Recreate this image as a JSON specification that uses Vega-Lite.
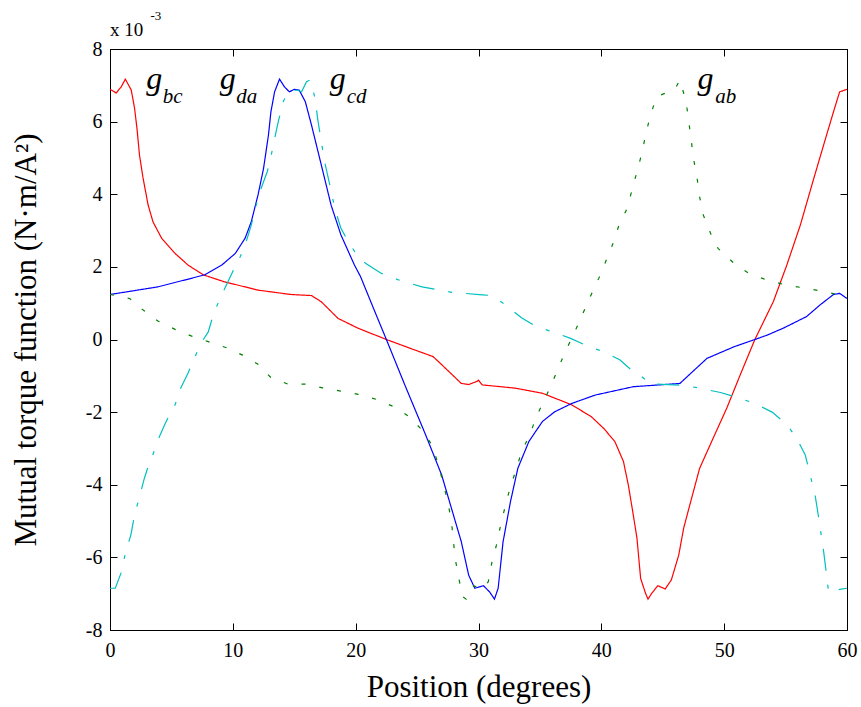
{
"$schema": "https://vega.github.io/schema/vega-lite/v6.json",
"width": 737, "height": 581,
"autosize": {"type": "none"},
"padding": {"left": 110, "top": 49, "right": 14, "bottom": 77},
"background": "white",
"config": {
 "view": {"stroke": "black", "strokeWidth": 1},
 "axis": {"labelFont": "Liberation Serif", "titleFont": "Liberation Serif", "labelColor": "black", "titleColor": "black", "domainColor": "black", "tickColor": "black", "grid": false, "labelFontSize": 20, "titleFontSize": 31, "titleFontWeight": "normal", "tickSize": -7, "domainWidth": 1, "tickWidth": 1, "labelOverlap": false, "labelFlush": false}
},
"datasets": {
"curves": [
{"s":"bc","x":0,"y":6.89},{"s":"bc","x":0.5,"y":6.79},{"s":"bc","x":0.9,"y":6.95},{"s":"bc","x":1.25,"y":7.17},{"s":"bc","x":1.73,"y":6.87},{"s":"bc","x":2.0,"y":6.37},{"s":"bc","x":2.2,"y":5.8},{"s":"bc","x":2.4,"y":5.08},{"s":"bc","x":2.69,"y":4.45},{"s":"bc","x":3.1,"y":3.71},{"s":"bc","x":3.5,"y":3.24},{"s":"bc","x":4.2,"y":2.79},{"s":"bc","x":5.3,"y":2.37},{"s":"bc","x":6.35,"y":2.05},{"s":"bc","x":7.6,"y":1.78},{"s":"bc","x":9.3,"y":1.59},{"s":"bc","x":12.05,"y":1.36},{"s":"bc","x":14.7,"y":1.24},{"s":"bc","x":16.4,"y":1.21},{"s":"bc","x":17.2,"y":1.04},{"s":"bc","x":18.57,"y":0.58},{"s":"bc","x":20.2,"y":0.31},{"s":"bc","x":22.5,"y":0.0},{"s":"bc","x":24.5,"y":-0.25},{"s":"bc","x":26.3,"y":-0.47},{"s":"bc","x":26.9,"y":-0.66},{"s":"bc","x":28.6,"y":-1.21},{"s":"bc","x":29.2,"y":-1.24},{"s":"bc","x":29.9,"y":-1.15},{"s":"bc","x":30.0,"y":-1.12},{"s":"bc","x":30.3,"y":-1.25},{"s":"bc","x":33.0,"y":-1.34},{"s":"bc","x":35.2,"y":-1.48},{"s":"bc","x":37.6,"y":-1.8},{"s":"bc","x":39.2,"y":-2.13},{"s":"bc","x":40.2,"y":-2.45},{"s":"bc","x":41.1,"y":-2.81},{"s":"bc","x":41.8,"y":-3.36},{"s":"bc","x":42.2,"y":-4.01},{"s":"bc","x":42.6,"y":-4.83},{"s":"bc","x":42.9,"y":-5.47},{"s":"bc","x":43.2,"y":-6.58},{"s":"bc","x":43.6,"y":-6.99},{"s":"bc","x":43.8,"y":-7.15},{"s":"bc","x":44.1,"y":-6.99},{"s":"bc","x":44.6,"y":-6.78},{"s":"bc","x":45.2,"y":-6.87},{"s":"bc","x":45.7,"y":-6.62},{"s":"bc","x":46.3,"y":-5.94},{"s":"bc","x":46.7,"y":-5.2},{"s":"bc","x":47.2,"y":-4.56},{"s":"bc","x":48.0,"y":-3.55},{"s":"bc","x":49.1,"y":-2.72},{"s":"bc","x":50.2,"y":-1.9},{"s":"bc","x":51.3,"y":-0.98},{"s":"bc","x":52.5,"y":0.0},{"s":"bc","x":54.0,"y":1.04},{"s":"bc","x":55.1,"y":2.05},{"s":"bc","x":56.2,"y":3.15},{"s":"bc","x":57.3,"y":4.44},{"s":"bc","x":58.1,"y":5.36},{"s":"bc","x":58.9,"y":6.27},{"s":"bc","x":59.4,"y":6.82},{"s":"bc","x":60,"y":6.89},
{"s":"da","x":0,"y":1.24},{"s":"da","x":1.5,"y":1.32},{"s":"da","x":3.9,"y":1.45},{"s":"da","x":6.1,"y":1.64},{"s":"da","x":7.7,"y":1.78},{"s":"da","x":9.1,"y":2.05},{"s":"da","x":10.2,"y":2.37},{"s":"da","x":11.0,"y":2.79},{"s":"da","x":11.5,"y":3.24},{"s":"da","x":12.05,"y":3.98},{"s":"da","x":12.5,"y":4.71},{"s":"da","x":12.9,"y":5.63},{"s":"da","x":13.1,"y":6.27},{"s":"da","x":13.4,"y":6.82},{"s":"da","x":13.8,"y":7.17},{"s":"da","x":14.2,"y":6.96},{"s":"da","x":14.6,"y":6.82},{"s":"da","x":15.0,"y":6.89},{"s":"da","x":15.4,"y":6.87},{"s":"da","x":15.9,"y":6.55},{"s":"da","x":16.4,"y":5.91},{"s":"da","x":17.2,"y":4.81},{"s":"da","x":18.0,"y":3.7},{"s":"da","x":18.8,"y":2.88},{"s":"da","x":19.9,"y":2.05},{"s":"da","x":20.4,"y":1.73},{"s":"da","x":21.4,"y":0.9},{"s":"da","x":22.5,"y":0.0},{"s":"da","x":24.0,"y":-1.25},{"s":"da","x":25.7,"y":-2.63},{"s":"da","x":27.0,"y":-3.73},{"s":"da","x":27.8,"y":-4.65},{"s":"da","x":28.6,"y":-5.57},{"s":"da","x":29.2,"y":-6.49},{"s":"da","x":29.7,"y":-6.85},{"s":"da","x":30.4,"y":-6.78},{"s":"da","x":30.9,"y":-6.95},{"s":"da","x":31.3,"y":-7.15},{"s":"da","x":31.6,"y":-6.85},{"s":"da","x":32.0,"y":-5.57},{"s":"da","x":32.6,"y":-4.47},{"s":"da","x":33.2,"y":-3.55},{"s":"da","x":34.1,"y":-2.81},{"s":"da","x":35.2,"y":-2.26},{"s":"da","x":36.2,"y":-1.99},{"s":"da","x":37.6,"y":-1.76},{"s":"da","x":39.5,"y":-1.53},{"s":"da","x":42.6,"y":-1.3},{"s":"da","x":46.4,"y":-1.21},{"s":"da","x":47.0,"y":-1.02},{"s":"da","x":48.6,"y":-0.52},{"s":"da","x":50.8,"y":-0.2},{"s":"da","x":52.5,"y":0.0},{"s":"da","x":53.5,"y":0.12},{"s":"da","x":54.8,"y":0.31},{"s":"da","x":56.7,"y":0.63},{"s":"da","x":57.8,"y":0.95},{"s":"da","x":58.9,"y":1.24},{"s":"da","x":59.4,"y":1.27},{"s":"da","x":60,"y":1.13},
{"s":"cd","x":0,"y":-6.85},{"s":"cd","x":0.43,"y":-6.85},{"s":"cd","x":0.92,"y":-6.41},{"s":"cd","x":1.25,"y":-5.89},{"s":"cd","x":1.7,"y":-5.38},{"s":"cd","x":2.0,"y":-4.83},{"s":"cd","x":2.4,"y":-4.33},{"s":"cd","x":2.8,"y":-3.82},{"s":"cd","x":3.1,"y":-3.5},{"s":"cd","x":3.4,"y":-3.27},{"s":"cd","x":3.85,"y":-2.81},{"s":"cd","x":4.45,"y":-2.35},{"s":"cd","x":4.9,"y":-2.03},{"s":"cd","x":5.3,"y":-1.8},{"s":"cd","x":5.75,"y":-1.34},{"s":"cd","x":6.35,"y":-0.93},{"s":"cd","x":6.75,"y":-0.61},{"s":"cd","x":7.1,"y":-0.34},{"s":"cd","x":7.6,"y":0.0},{"s":"cd","x":8.0,"y":0.21},{"s":"cd","x":8.4,"y":0.67},{"s":"cd","x":8.9,"y":1.09},{"s":"cd","x":9.6,"y":1.59},{"s":"cd","x":10.15,"y":1.98},{"s":"cd","x":10.6,"y":2.28},{"s":"cd","x":11.0,"y":2.6},{"s":"cd","x":11.5,"y":3.15},{"s":"cd","x":11.9,"y":3.7},{"s":"cd","x":12.3,"y":4.16},{"s":"cd","x":12.8,"y":4.62},{"s":"cd","x":13.1,"y":5.03},{"s":"cd","x":13.35,"y":5.45},{"s":"cd","x":13.7,"y":6.0},{"s":"cd","x":14.1,"y":6.55},{"s":"cd","x":14.5,"y":6.82},{"s":"cd","x":15.2,"y":6.87},{"s":"cd","x":15.6,"y":6.82},{"s":"cd","x":16.0,"y":7.1},{"s":"cd","x":16.3,"y":7.15},{"s":"cd","x":16.7,"y":6.64},{"s":"cd","x":16.9,"y":6.09},{"s":"cd","x":17.2,"y":5.45},{"s":"cd","x":17.5,"y":4.85},{"s":"cd","x":17.9,"y":4.25},{"s":"cd","x":18.3,"y":3.61},{"s":"cd","x":18.8,"y":3.06},{"s":"cd","x":19.4,"y":2.69},{"s":"cd","x":20.1,"y":2.33},{"s":"cd","x":20.8,"y":2.1},{"s":"cd","x":22.1,"y":1.82},{"s":"cd","x":23.5,"y":1.64},{"s":"cd","x":25.4,"y":1.45},{"s":"cd","x":27.8,"y":1.3},{"s":"cd","x":30.3,"y":1.23},{"s":"cd","x":31.1,"y":1.21},{"s":"cd","x":32.2,"y":0.95},{"s":"cd","x":33.5,"y":0.6},{"s":"cd","x":34.7,"y":0.36},{"s":"cd","x":36.2,"y":0.19},{"s":"cd","x":37.5,"y":0.03},{"s":"cd","x":38.8,"y":-0.17},{"s":"cd","x":40.2,"y":-0.34},{"s":"cd","x":41.5,"y":-0.56},{"s":"cd","x":42.6,"y":-0.89},{"s":"cd","x":43.2,"y":-1.0},{"s":"cd","x":44.0,"y":-1.22},{"s":"cd","x":46.7,"y":-1.26},{"s":"cd","x":48.0,"y":-1.34},{"s":"cd","x":49.7,"y":-1.46},{"s":"cd","x":51.0,"y":-1.59},{"s":"cd","x":52.5,"y":-1.76},{"s":"cd","x":53.9,"y":-2.0},{"s":"cd","x":55.1,"y":-2.34},{"s":"cd","x":55.9,"y":-2.72},{"s":"cd","x":56.6,"y":-3.18},{"s":"cd","x":57.0,"y":-3.73},{"s":"cd","x":57.4,"y":-4.28},{"s":"cd","x":57.7,"y":-4.92},{"s":"cd","x":57.9,"y":-5.38},{"s":"cd","x":58.1,"y":-5.84},{"s":"cd","x":58.3,"y":-6.39},{"s":"cd","x":58.5,"y":-6.95},{"s":"cd","x":58.8,"y":-6.96},{"s":"cd","x":59.4,"y":-6.88},{"s":"cd","x":60,"y":-6.85},
{"s":"ab","x":0,"y":1.24},{"s":"ab","x":1.6,"y":1.13},{"s":"ab","x":2.7,"y":0.81},{"s":"ab","x":3.9,"y":0.51},{"s":"ab","x":5.3,"y":0.28},{"s":"ab","x":6.6,"y":0.1},{"s":"ab","x":8.0,"y":-0.06},{"s":"ab","x":9.5,"y":-0.23},{"s":"ab","x":10.8,"y":-0.43},{"s":"ab","x":12.05,"y":-0.68},{"s":"ab","x":13.1,"y":-1.05},{"s":"ab","x":14.5,"y":-1.23},{"s":"ab","x":15.9,"y":-1.23},{"s":"ab","x":17.3,"y":-1.33},{"s":"ab","x":18.8,"y":-1.42},{"s":"ab","x":20.2,"y":-1.51},{"s":"ab","x":21.7,"y":-1.65},{"s":"ab","x":23.1,"y":-1.85},{"s":"ab","x":24.3,"y":-2.11},{"s":"ab","x":25.4,"y":-2.49},{"s":"ab","x":26.2,"y":-2.9},{"s":"ab","x":26.7,"y":-3.41},{"s":"ab","x":27.1,"y":-3.92},{"s":"ab","x":27.5,"y":-4.47},{"s":"ab","x":27.8,"y":-5.02},{"s":"ab","x":28.1,"y":-6.03},{"s":"ab","x":28.4,"y":-6.58},{"s":"ab","x":28.7,"y":-7.08},{"s":"ab","x":29.0,"y":-7.15},{"s":"ab","x":29.6,"y":-6.78},{"s":"ab","x":30.3,"y":-6.87},{"s":"ab","x":30.8,"y":-6.67},{"s":"ab","x":31.1,"y":-6.12},{"s":"ab","x":31.5,"y":-5.61},{"s":"ab","x":31.8,"y":-5.11},{"s":"ab","x":32.2,"y":-4.56},{"s":"ab","x":32.6,"y":-4.05},{"s":"ab","x":33.1,"y":-3.55},{"s":"ab","x":33.5,"y":-3.09},{"s":"ab","x":34.2,"y":-2.61},{"s":"ab","x":34.7,"y":-2.13},{"s":"ab","x":35.4,"y":-1.64},{"s":"ab","x":36.0,"y":-1.19},{"s":"ab","x":36.6,"y":-0.7},{"s":"ab","x":37.2,"y":-0.24},{"s":"ab","x":37.9,"y":0.26},{"s":"ab","x":38.5,"y":0.72},{"s":"ab","x":39.1,"y":1.18},{"s":"ab","x":39.8,"y":1.69},{"s":"ab","x":40.3,"y":2.1},{"s":"ab","x":40.9,"y":2.6},{"s":"ab","x":41.4,"y":3.11},{"s":"ab","x":42.1,"y":3.61},{"s":"ab","x":42.5,"y":4.12},{"s":"ab","x":42.9,"y":4.62},{"s":"ab","x":43.3,"y":5.13},{"s":"ab","x":43.6,"y":5.63},{"s":"ab","x":44.0,"y":6.18},{"s":"ab","x":44.5,"y":6.69},{"s":"ab","x":45.5,"y":6.82},{"s":"ab","x":46.0,"y":6.9},{"s":"ab","x":46.4,"y":7.15},{"s":"ab","x":46.9,"y":6.55},{"s":"ab","x":47.1,"y":6.05},{"s":"ab","x":47.3,"y":5.54},{"s":"ab","x":47.5,"y":4.99},{"s":"ab","x":47.8,"y":4.44},{"s":"ab","x":48.0,"y":3.93},{"s":"ab","x":48.3,"y":3.43},{"s":"ab","x":48.9,"y":2.92},{"s":"ab","x":49.5,"y":2.51},{"s":"ab","x":50.8,"y":2.1},{"s":"ab","x":52.0,"y":1.82},{"s":"ab","x":53.3,"y":1.66},{"s":"ab","x":54.8,"y":1.52},{"s":"ab","x":56.3,"y":1.43},{"s":"ab","x":57.8,"y":1.34},{"s":"ab","x":59.2,"y":1.24},{"s":"ab","x":60,"y":1.24}
],
"glab": [{"t":"g","x":2.96,"y":6.9},{"t":"g","x":8.93,"y":6.9},{"t":"g","x":17.88,"y":6.9},{"t":"g","x":47.83,"y":6.9}],
"subs": [{"t":"bc","x":4.3,"y":6.5},{"t":"da","x":10.28,"y":6.5},{"t":"cd","x":19.27,"y":6.5},{"t":"ab","x":49.27,"y":6.5}],
"expo": [{"t":"x 10","x":0,"y":8.36}],
"expo2": [{"t":"-3","x":3.3,"y":8.79}]
},
"layer": [
 {"data": {"name": "curves"},
  "mark": {"type": "line", "strokeWidth": 1.2, "clip": true},
  "encoding": {
   "x": {"field": "x", "type": "quantitative", "scale": {"domain": [0, 60], "nice": false, "zero": false},
         "axis": {"orient": "bottom", "values": [0,10,20,30,40,50,60], "title": "Position (degrees)", "labelPadding": 17, "titlePadding": 12}},
   "y": {"field": "y", "type": "quantitative", "scale": {"domain": [-8, 8], "nice": false},
         "axis": {"orient": "left", "values": [-8,-6,-4,-2,0,2,4,6,8], "title": "Mutual torque function (N·m/A²)", "labelPadding": 15, "titlePadding": 43, "labelExpr": "'' + datum.value"}},
   "color": {"field": "s", "type": "nominal", "scale": {"domain": ["bc","da","cd","ab"], "range": ["#ff0000","#0000ff","#00bfbf","#008000"]}, "legend": null},
   "strokeDash": {"field": "s", "type": "nominal", "scale": {"domain": ["bc","da","cd","ab"], "range": [[1,0],[1,0],[22,14,4,14],[4,14]]}, "legend": null}
  }},
 {"data": {"name": "glab"},
  "mark": {"type": "text", "font": "Liberation Serif", "fontStyle": "italic", "fontSize": 32, "align": "left", "baseline": "alphabetic", "color": "black"},
  "encoding": {
   "x": {"field": "x", "type": "quantitative", "axis": {"orient": "top", "values": [0,10,20,30,40,50,60], "labels": false, "title": null}},
   "y": {"field": "y", "type": "quantitative", "axis": {"orient": "right", "values": [-8,-6,-4,-2,0,2,4,6,8], "labels": false, "title": null}},
   "text": {"field": "t"}
  }},
 {"data": {"name": "subs"},
  "mark": {"type": "text", "font": "Liberation Serif", "fontStyle": "italic", "fontSize": 21, "align": "left", "baseline": "alphabetic", "color": "black"},
  "encoding": {
   "x": {"field": "x", "type": "quantitative", "axis": null},
   "y": {"field": "y", "type": "quantitative", "axis": null},
   "text": {"field": "t"}
  }},
 {"data": {"name": "expo"},
  "mark": {"type": "text", "font": "Liberation Serif", "fontSize": 19, "align": "left", "baseline": "alphabetic", "color": "black"},
  "encoding": {
   "x": {"field": "x", "type": "quantitative", "axis": null},
   "y": {"field": "y", "type": "quantitative", "axis": null},
   "text": {"field": "t"}
  }},
 {"data": {"name": "expo2"},
  "mark": {"type": "text", "font": "Liberation Serif", "fontSize": 13, "align": "left", "baseline": "alphabetic", "color": "black"},
  "encoding": {
   "x": {"field": "x", "type": "quantitative", "axis": null},
   "y": {"field": "y", "type": "quantitative", "axis": null},
   "text": {"field": "t"}
  }}
],
"resolve": {"axis": {"x": "independent", "y": "independent"}}
}
